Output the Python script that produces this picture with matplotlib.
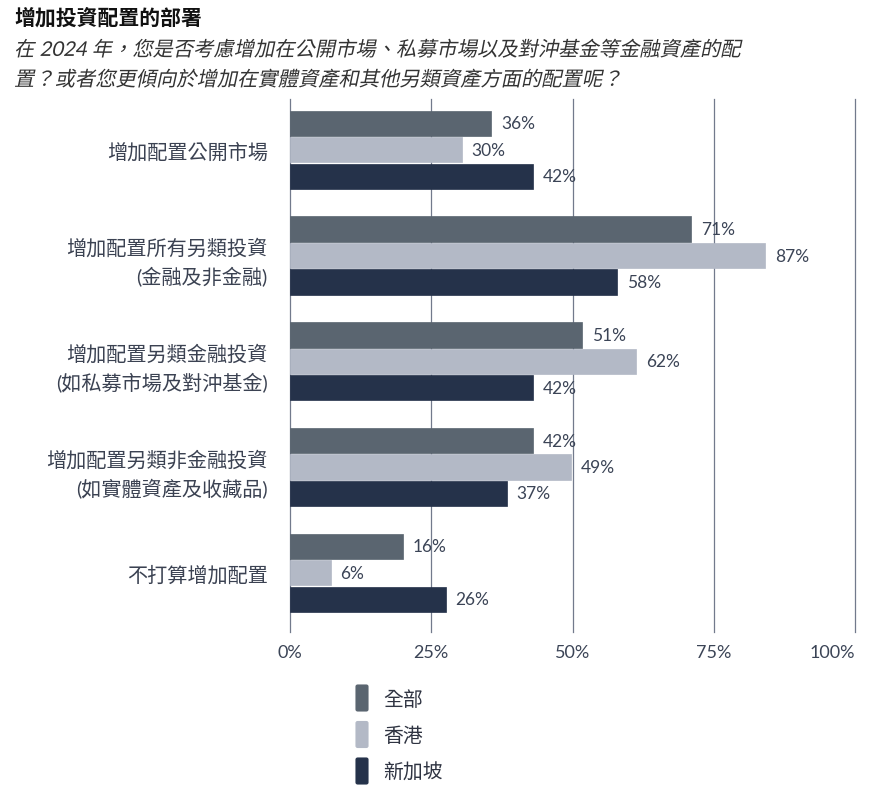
import matplotlib
matplotlib.use("Agg")
import matplotlib.pyplot as plt
import numpy as np
from matplotlib.patches import FancyBboxPatch
from matplotlib.patheffects import AbstractPathEffect
from matplotlib.transforms import Affine2D

plt.rcParams['font.family'] = ['Lato', 'Noto Sans CJK TC', 'DejaVu Sans']

# ---- data ----
categories = ["增加配置公開市場",
              "增加配置所有另類投資\n(金融及非金融)",
              "增加配置另類金融投資\n(如私募市場及對沖基金)",
              "增加配置另類非金融投資\n(如實體資產及收藏品)",
              "不打算增加配置"]
series_names = ["全部", "香港", "新加坡"]
# bar lengths as drawn in the reference (percent)
values_all = [35.6, 71.0, 51.7, 43.0, 20.0]
values_hk = [30.4, 84.1, 61.3, 49.7, 7.2]
values_sg = [43.0, 57.9, 43.0, 38.4, 27.6]
# value labels as printed
labels_all = ["36%", "71%", "51%", "42%", "16%"]
labels_hk = ["30%", "87%", "62%", "49%", "6%"]
labels_sg = ["42%", "58%", "42%", "37%", "26%"]
xticks = [0, 25, 50, 75, 100]
xtick_labels = ["0%", "25%", "50%", "75%", "100%"]

colors = ["#5a6570", "#b3b9c6", "#25324a"]
text_col = "#3b4456"

W, H = 880, 803


class Skew(AbstractPathEffect):
    def __init__(self, deg=12):
        super().__init__()
        self.deg = deg

    def draw_path(self, renderer, gc, tpath, affine, rgbFace=None):
        renderer.draw_path(gc, tpath, Affine2D().skew_deg(self.deg, 0) + affine, rgbFace)


fig = plt.figure(figsize=(W / 100, H / 100), dpi=100)
ax = fig.add_axes([290 / W, 1 - 633 / H, 565 / W, 533 / H])

y = np.arange(len(categories))
h = 0.24
off = 0.25
series = [(values_all, labels_all), (values_hk, labels_hk), (values_sg, labels_sg)]
for i, (vals, labs) in enumerate(series):
    ys = y + (i - 1) * off
    ax.barh(ys, vals, height=h, color=colors[i], edgecolor=colors[i], linewidth=0.5, zorder=3)
    for yy, v, lab in zip(ys, vals, labs):
        ax.annotate(lab, (v, yy), xytext=(7, 0), textcoords="offset points",
                    ha="left", va="center", fontsize=12.5, color=text_col)

ax.set_xlim(0, 100)
ax.set_ylim(4.56, -0.48)
ax.set_xticks(xticks)
ax.set_xticklabels(xtick_labels, fontsize=13, color=text_col)
ax.tick_params(axis="x", length=0, pad=9)
ax.set_yticks(y)
ax.set_yticklabels(categories, fontsize=14.5, color="#3b4252", linespacing=1.55,
                   ha="right", multialignment="right")
ax.tick_params(axis="y", length=0, pad=16)
xl = ax.get_xticklabels()
xl[-1].set_horizontalalignment("right")
ax.grid(axis="x", color="#727a8c", linewidth=0.9, zorder=0)
ax.grid(axis="y", visible=False)
for gl in ax.xaxis.get_gridlines():
    gl.set_clip_on(False)
for s in ax.spines.values():
    s.set_visible(False)

fig.text(14 / W, 1 - 18 / H, "增加投資配置的部署", fontsize=15, fontweight="bold",
         color="#111111", ha="left", va="center")
sub_lines = ["在 2024 年，您是否考慮增加在公開市場、私募市場以及對沖基金等金融資產的配",
             "置？或者您更傾向於增加在實體資產和其他另類資產方面的配置呢？"]
for k, line in enumerate(sub_lines):
    t = fig.text(14 / W, 1 - (50 + 30 * k) / H, line, fontsize=14.6, color="#333333",
                 ha="left", va="center")
    t.set_path_effects([Skew(12)])

# legend (drawn in figure pixel coordinates)
for k, (name, c) in enumerate(zip(series_names, colors)):
    top = 686 + 36.5 * k
    box = FancyBboxPatch((356 / W, 1 - (top + 26) / H), 12 / W, 26 / H,
                         boxstyle="round,pad=0,rounding_size=0.002",
                         transform=fig.transFigure, facecolor=c, edgecolor=c,
                         linewidth=0.8)
    fig.add_artist(box)
    fig.text(383 / W, 1 - (top + 13.5) / H, name, fontsize=14.3, color="#2f3442",
             ha="left", va="center")

fig.savefig("out.png", dpi=100)
